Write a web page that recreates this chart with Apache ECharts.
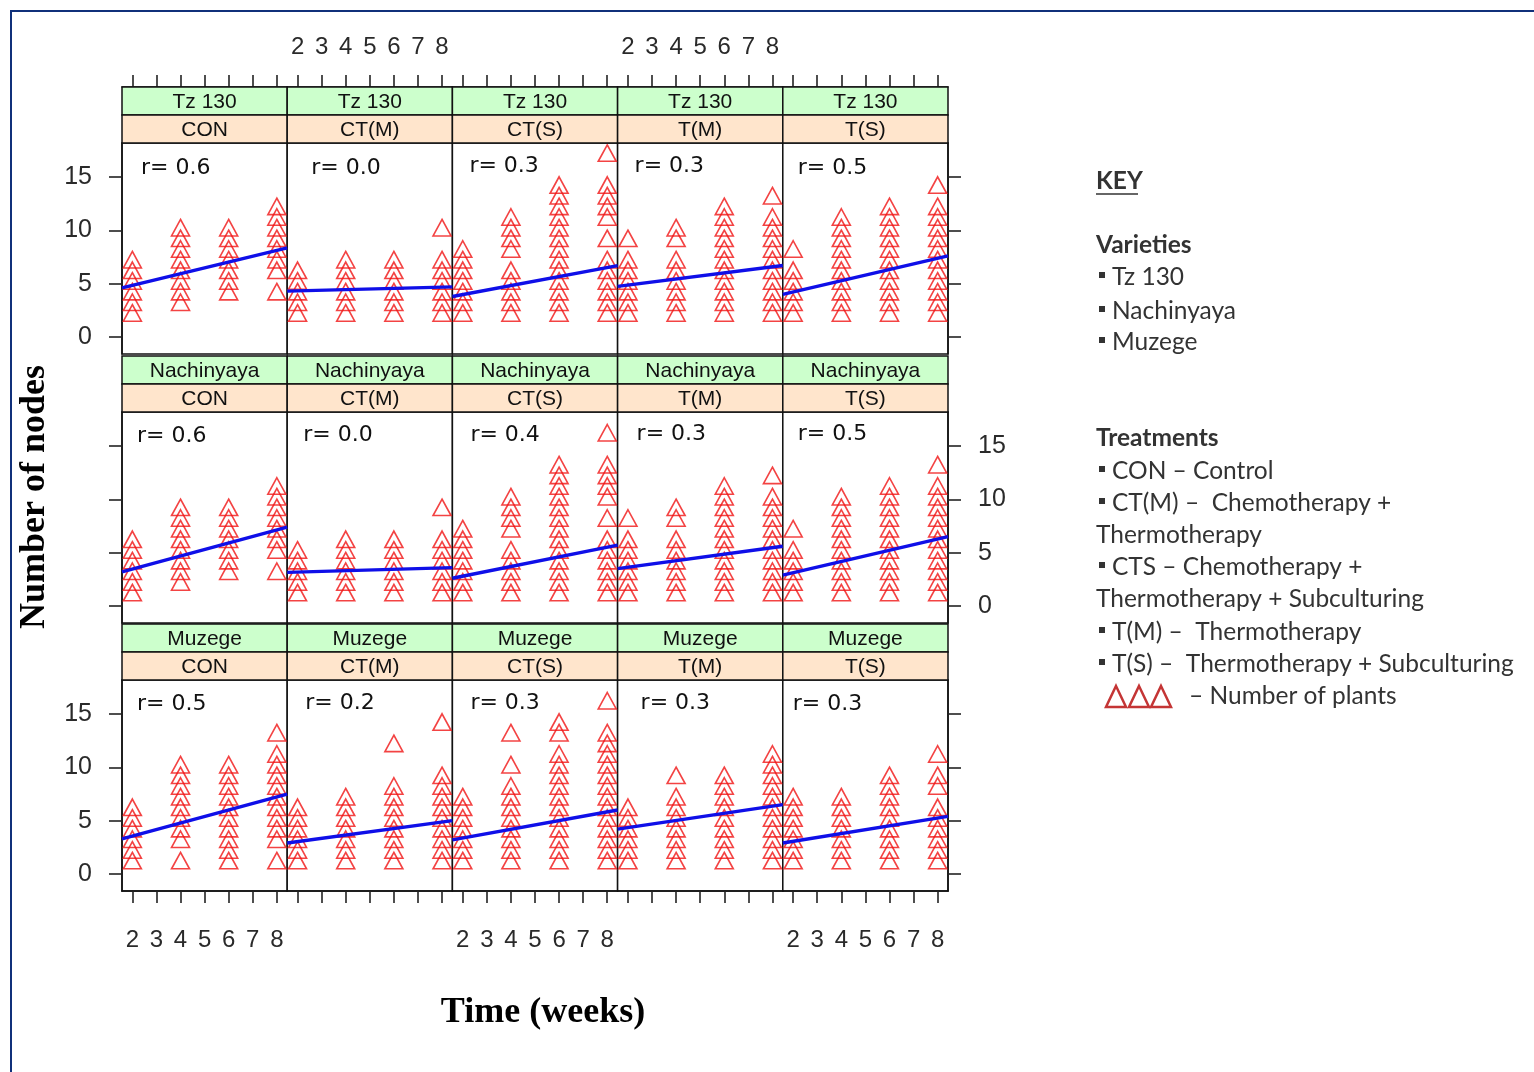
<!DOCTYPE html>
<html><head><meta charset="utf-8">
<script src="https://cdn.jsdelivr.net/npm/echarts@6/dist/echarts.min.js"></script>
<style>html,body{margin:0;padding:0;background:#fff}#c{width:1534px;height:1072px}</style>
</head><body><div id="c"></div>
<script>
// ---------------- DATA ----------------
const varieties = ['Tz 130', 'Nachinyaya', 'Muzege'];
const treatments = ['CON', 'CT(M)', 'CT(S)', 'T(M)', 'T(S)'];
const weeks = [2, 4, 6, 8];
const xTickValues = [2, 3, 4, 5, 6, 7, 8];
const yTickValues = [0, 5, 10, 15];

// Number of nodes per plant, [treatment][week] for each variety
const tz130Nodes = [
  [[2,3,4,5,6,7], [3,4,5,6,7,8,9,10], [4,5,6,7,8,9,10], [4,6,7,8,9,10,11,12]],
  [[2,3,4,5,6], [2,3,4,5,6,7], [2,3,4,5,6,7], [2,3,4,5,6,7,10]],
  [[2,3,4,5,6,7,8], [2,3,4,5,6,8,9,10,11], [2,3,4,5,6,7,8,9,10,11,12,13,14], [2,3,4,5,6,7,9,11,12,13,14,17]],
  [[2,3,4,5,6,7,9], [2,3,4,5,6,7,9,10], [2,3,4,5,6,7,8,9,10,11,12], [2,3,4,5,6,7,8,9,10,11,13]],
  [[2,3,4,5,6,8], [2,3,4,5,6,7,8,9,10,11], [2,3,4,5,6,7,8,9,10,11,12], [2,3,4,5,6,7,8,9,10,11,12,14]]
];
const nachinyayaNodes = [
  [[1,2,3,4,5,6], [2,3,4,5,6,7,8,9], [3,4,5,6,7,8,9], [3,5,6,7,8,9,10,11]],
  [[1,2,3,4,5], [1,2,3,4,5,6], [1,2,3,4,5,6], [1,2,3,4,5,6,9]],
  [[1,2,3,4,5,6,7], [1,2,3,4,5,7,8,9,10], [1,2,3,4,5,6,7,8,9,10,11,12,13], [1,2,3,4,5,6,8,10,11,12,13,16]],
  [[1,2,3,4,5,6,8], [1,2,3,4,5,6,8,9], [1,2,3,4,5,6,7,8,9,10,11], [1,2,3,4,5,6,7,8,9,10,12]],
  [[1,2,3,4,5,7], [1,2,3,4,5,6,7,8,9,10], [1,2,3,4,5,6,7,8,9,10,11], [1,2,3,4,5,6,7,8,9,10,11,13]]
];
const muzegeNodes = [
  [[1,2,3,4,5,6], [1,3,4,5,6,7,8,9,10], [1,2,3,4,5,6,7,8,9,10], [1,3,4,5,6,7,8,9,10,11,13]],
  [[1,2,3,4,5,6], [1,2,3,4,5,6,7], [1,2,3,4,5,6,7,8,12], [1,2,3,4,5,6,7,8,9,14]],
  [[1,2,3,4,5,6,7], [1,2,3,4,5,6,7,8,10,13], [1,2,3,4,5,6,7,8,9,10,11,13,14], [1,2,3,4,5,6,7,8,9,10,11,12,13,16]],
  [[1,2,3,4,5,6], [1,2,3,4,5,6,7,9], [1,2,3,4,5,6,7,8,9], [1,2,3,4,5,6,7,8,9,10,11]],
  [[1,2,3,4,5,6,7], [1,2,3,4,5,6,7], [1,2,3,4,5,6,7,8,9], [1,2,3,4,5,6,8,9,11]]
];
// Fitted line value at left and right panel edge, per treatment
const tz130LineStart = [4.6, 4.3, 3.8, 4.75, 4.0];
const tz130LineEnd   = [8.35, 4.7, 6.7, 6.7, 7.6];
const nachinyayaLineStart = [3.2, 3.15, 2.6, 3.5, 2.9];
const nachinyayaLineEnd   = [7.4, 3.6, 5.7, 5.6, 6.5];
const muzegeLineStart = [3.3, 2.9, 3.2, 4.2, 2.9];
const muzegeLineEnd   = [7.5, 5.0, 6.0, 6.5, 5.4];
// correlation labels
const tz130R = ['0.6', '0.0', '0.3', '0.3', '0.5'];
const nachinyayaR = ['0.6', '0.0', '0.4', '0.3', '0.5'];
const muzegeR = ['0.5', '0.2', '0.3', '0.3', '0.3'];

const nodesByVariety = [tz130Nodes, nachinyayaNodes, muzegeNodes];
const lineStartByVariety = [tz130LineStart, nachinyayaLineStart, muzegeLineStart];
const lineEndByVariety = [tz130LineEnd, nachinyayaLineEnd, muzegeLineEnd];
const rByVariety = [tz130R, nachinyayaR, muzegeR];

// ---------------- LAYOUT ----------------
const X_MIN = 1.57, X_MAX = 8.43, Y_MIN = -1.6, Y_MAX = 18.2;
const colLeft = [122, 287.2, 452.4, 617.6, 782.8];
const colWidth = 165.2;
const rowTop = [143, 412, 680];
const rowHeight = 211;
const stripH = 28;
// r label offset (dx from panel left, centre dy from panel top)
const rOffset = [
  [[19,25],[24,25],[17,23],[17,23],[15,25]],
  [[15,24],[16,23],[18,23],[19,22],[15,22]],
  [[15,24],[18,23],[18,23],[23,23],[10,24]]
];
const STRIP_GREEN = '#ccffcc', STRIP_PEACH = '#ffe5cc';

const grids = [], xAxes = [], yAxes = [], series = [], graphics = [];
for (let r = 0; r < 3; r++) {
  for (let c = 0; c < 5; c++) {
    const i = r * 5 + c;
    const left = colLeft[c], top = rowTop[r];
    grids.push({left: left, top: top, width: colWidth, height: rowHeight,
      show: true, borderColor: '#111', borderWidth: 1.5, backgroundColor: '#fff'});
    xAxes.push({
      gridIndex: i, type: 'value', min: X_MIN, max: X_MAX,
      show: r !== 1, position: r === 0 ? 'top' : 'bottom', offset: r === 0 ? 56 : 0,
      axisLine: {show: true, onZero: false, lineStyle: {color: '#111', width: 1.5}},
      axisTick: {show: true, inside: false, length: 12, customValues: xTickValues,
        lineStyle: {color: '#222', width: 1.6}},
      axisLabel: {show: (r === 0 && c % 2 === 1) || (r === 2 && c % 2 === 0),
        customValues: xTickValues, margin: r === 0 ? 28 : 37,
        fontFamily: 'Liberation Sans', fontSize: 24, color: '#2a2a2a'},
      splitLine: {show: false}
    });
    yAxes.push({
      gridIndex: i, type: 'value', min: Y_MIN, max: Y_MAX,
      show: c === 0 || c === 4, position: c === 4 ? 'right' : 'left',
      axisLine: {show: true, onZero: false, lineStyle: {color: '#111', width: 1.5}},
      axisTick: {show: true, inside: false, length: 13, customValues: yTickValues,
        lineStyle: {color: '#222', width: 1.6}},
      axisLabel: {show: (c === 0 && r !== 1) || (c === 4 && r === 1),
        customValues: yTickValues, margin: 30,
        fontFamily: 'Liberation Sans', fontSize: 25, color: '#2a2a2a'},
      splitLine: {show: false}
    });
    const pts = [];
    nodesByVariety[r][c].forEach((vals, w) => vals.forEach(v => pts.push([weeks[w], v])));
    series.push({
      type: 'scatter', xAxisIndex: i, yAxisIndex: i, data: pts,
      symbol: 'triangle', symbolSize: [18, 16.5], symbolOffset: [0, -2.7],
      itemStyle: {color: 'rgba(255,0,0,0)', borderColor: '#f01414', borderWidth: 1.6},
      silent: true, z: 2
    });
    series.push({
      type: 'line', xAxisIndex: i, yAxisIndex: i,
      data: [[X_MIN, lineStartByVariety[r][c]], [X_MAX, lineEndByVariety[r][c]]],
      symbol: 'none', lineStyle: {color: '#0f0fe8', width: 3.4}, silent: true, z: 3
    });
    // strips
    graphics.push({type: 'rect', shape: {x: left, y: top - 2 * stripH, width: colWidth, height: stripH},
      style: {fill: STRIP_GREEN, stroke: '#111', lineWidth: 1.5}, z: 10});
    graphics.push({type: 'rect', shape: {x: left, y: top - stripH, width: colWidth, height: stripH},
      style: {fill: STRIP_PEACH, stroke: '#111', lineWidth: 1.5}, z: 10});
    graphics.push({type: 'text', x: left + colWidth / 2, y: top - 1.5 * stripH + 1,
      style: {text: varieties[r], fill: '#111', font: '21px "Liberation Sans"', align: 'center', verticalAlign: 'middle'}, z: 11});
    graphics.push({type: 'text', x: left + colWidth / 2, y: top - 0.5 * stripH + 1,
      style: {text: treatments[c], fill: '#111', font: '21px "Liberation Sans"', align: 'center', verticalAlign: 'middle'}, z: 11});
    graphics.push({type: 'text', x: left + rOffset[r][c][0], y: top + rOffset[r][c][1],
      style: {text: 'r= ' + rByVariety[r][c], fill: '#111', font: '22px "DejaVu Sans"', verticalAlign: 'middle'}, z: 11});
  }
}

// axis titles
graphics.push({type: 'text', x: 543, y: 1013,
  style: {text: 'Time (weeks)', fill: '#000', font: 'bold 36px "Liberation Serif"', align: 'center', verticalAlign: 'middle'}});
graphics.push({type: 'text', x: 35, y: 497, rotation: Math.PI / 2,
  style: {text: 'Number of nodes', fill: '#000', font: 'bold 36px "Liberation Serif"', align: 'center', verticalAlign: 'middle'}});

// frame
graphics.push({type: 'rect', shape: {x: 11, y: 11, width: 1600, height: 1200},
  style: {fill: 'none', stroke: '#10307a', lineWidth: 2}, z: 0});

// key
const keyFont = '24.5px Lato', keyBold = 'bold 24.5px Lato', keyCol = '#333';
const KX = 1096;
function keyText(x, y, t, font) {
  graphics.push({type: 'text', x: x, y: y, style: {text: t, fill: keyCol, font: font || keyFont, verticalAlign: 'middle'}});
}
function bullet(y) {
  graphics.push({type: 'rect', shape: {x: 1099, y: y - 5, width: 6, height: 6}, style: {fill: '#333'}});
}
keyText(KX, 181, 'KEY', keyBold);
graphics.push({type: 'line', shape: {x1: KX, y1: 194, x2: 1138, y2: 194}, style: {stroke: '#333', lineWidth: 1.5}});
keyText(KX, 245, 'Varieties', keyBold);
[[277, 'Tz 130'], [311, 'Nachinyaya'], [342, 'Muzege']].forEach(([y, t]) => { bullet(y); keyText(1112, y, t); });
keyText(KX, 438, 'Treatments', keyBold);
bullet(471); keyText(1112, 471, 'CON – Control');
bullet(503); keyText(1112, 503, 'CT(M) –  Chemotherapy +');
keyText(KX, 535, 'Thermotherapy');
bullet(567); keyText(1112, 567, 'CTS – Chemotherapy +');
keyText(KX, 599, 'Thermotherapy + Subculturing');
bullet(632); keyText(1112, 632, 'T(M) –  Thermotherapy');
bullet(664); keyText(1112, 664, 'T(S) –  Thermotherapy + Subculturing');
[1116, 1139, 1161].forEach(cx => graphics.push({type: 'polygon',
  shape: {points: [[cx, 686], [cx + 10, 707], [cx - 10, 707]]},
  style: {fill: 'none', stroke: '#c43535', lineWidth: 2.5}}));
keyText(1189, 696, '– Number of plants');

const chart = echarts.init(document.getElementById('c'), null, {renderer: 'canvas'});
chart.setOption({
  animation: false,
  backgroundColor: '#fff',
  grid: grids, xAxis: xAxes, yAxis: yAxes, series: series, graphic: graphics
});
</script>
</body></html>
